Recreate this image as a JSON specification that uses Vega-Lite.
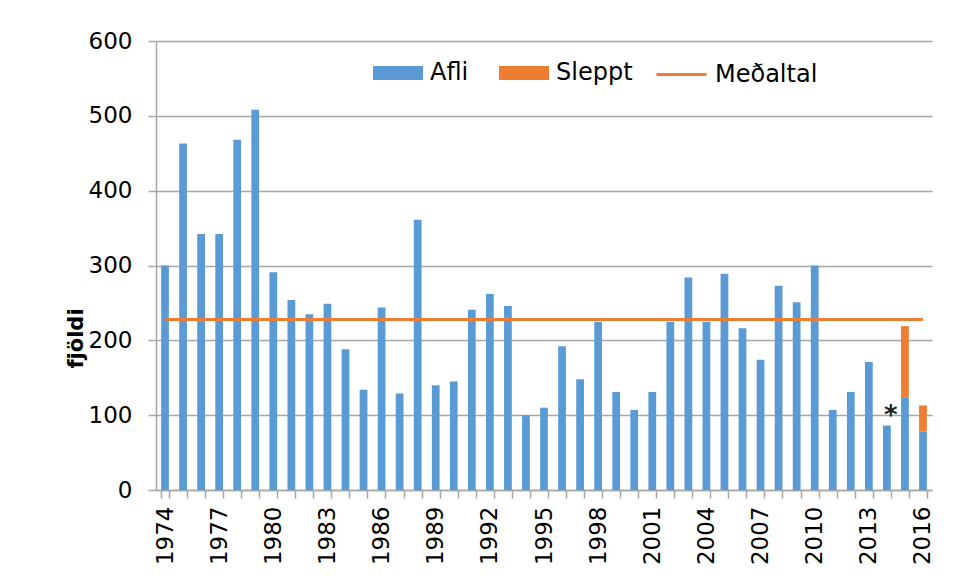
{
  "$schema": "https://vega.github.io/schema/vega-lite/v6.json",
  "width": 776,
  "height": 449,
  "autosize": {"type": "none"},
  "padding": {"left": 156, "top": 41, "right": 25, "bottom": 88},
  "background": "white",
  "config": {"view": {"stroke": null}, "font": "DejaVu Sans"},
  "datasets": {
    "d": [
      {"year": 1974, "Afli": 300, "Sleppt": 0, "Medaltal": 228},
      {"year": 1975, "Afli": 463, "Sleppt": 0, "Medaltal": 228},
      {"year": 1976, "Afli": 342, "Sleppt": 0, "Medaltal": 228},
      {"year": 1977, "Afli": 342, "Sleppt": 0, "Medaltal": 228},
      {"year": 1978, "Afli": 468, "Sleppt": 0, "Medaltal": 228},
      {"year": 1979, "Afli": 508, "Sleppt": 0, "Medaltal": 228},
      {"year": 1980, "Afli": 291, "Sleppt": 0, "Medaltal": 228},
      {"year": 1981, "Afli": 254, "Sleppt": 0, "Medaltal": 228},
      {"year": 1982, "Afli": 235, "Sleppt": 0, "Medaltal": 228},
      {"year": 1983, "Afli": 249, "Sleppt": 0, "Medaltal": 228},
      {"year": 1984, "Afli": 188, "Sleppt": 0, "Medaltal": 228},
      {"year": 1985, "Afli": 134, "Sleppt": 0, "Medaltal": 228},
      {"year": 1986, "Afli": 244, "Sleppt": 0, "Medaltal": 228},
      {"year": 1987, "Afli": 129, "Sleppt": 0, "Medaltal": 228},
      {"year": 1988, "Afli": 361, "Sleppt": 0, "Medaltal": 228},
      {"year": 1989, "Afli": 140, "Sleppt": 0, "Medaltal": 228},
      {"year": 1990, "Afli": 145, "Sleppt": 0, "Medaltal": 228},
      {"year": 1991, "Afli": 241, "Sleppt": 0, "Medaltal": 228},
      {"year": 1992, "Afli": 262, "Sleppt": 0, "Medaltal": 228},
      {"year": 1993, "Afli": 246, "Sleppt": 0, "Medaltal": 228},
      {"year": 1994, "Afli": 100, "Sleppt": 0, "Medaltal": 228},
      {"year": 1995, "Afli": 110, "Sleppt": 0, "Medaltal": 228},
      {"year": 1996, "Afli": 192, "Sleppt": 0, "Medaltal": 228},
      {"year": 1997, "Afli": 148, "Sleppt": 0, "Medaltal": 228},
      {"year": 1998, "Afli": 225, "Sleppt": 0, "Medaltal": 228},
      {"year": 1999, "Afli": 131, "Sleppt": 0, "Medaltal": 228},
      {"year": 2000, "Afli": 107, "Sleppt": 0, "Medaltal": 228},
      {"year": 2001, "Afli": 131, "Sleppt": 0, "Medaltal": 228},
      {"year": 2002, "Afli": 225, "Sleppt": 0, "Medaltal": 228},
      {"year": 2003, "Afli": 284, "Sleppt": 0, "Medaltal": 228},
      {"year": 2004, "Afli": 225, "Sleppt": 0, "Medaltal": 228},
      {"year": 2005, "Afli": 289, "Sleppt": 0, "Medaltal": 228},
      {"year": 2006, "Afli": 216, "Sleppt": 0, "Medaltal": 228},
      {"year": 2007, "Afli": 174, "Sleppt": 0, "Medaltal": 228},
      {"year": 2008, "Afli": 273, "Sleppt": 0, "Medaltal": 228},
      {"year": 2009, "Afli": 251, "Sleppt": 0, "Medaltal": 228},
      {"year": 2010, "Afli": 300, "Sleppt": 0, "Medaltal": 228},
      {"year": 2011, "Afli": 107, "Sleppt": 0, "Medaltal": 228},
      {"year": 2012, "Afli": 131, "Sleppt": 0, "Medaltal": 228},
      {"year": 2013, "Afli": 171, "Sleppt": 0, "Medaltal": 228},
      {"year": 2014, "Afli": 86, "Sleppt": 0, "Medaltal": 228},
      {"year": 2015, "Afli": 124, "Sleppt": 95, "Medaltal": 228},
      {"year": 2016, "Afli": 78, "Sleppt": 35, "Medaltal": 228}
    ],
    "note": [{"year": 2014, "value": 107, "label": "*"}]
  },
  "encoding": {
    "x": {
      "field": "year",
      "type": "ordinal",
      "scale": {"paddingInner": 0.57, "paddingOuter": 0.285},
      "axis": {
        "title": null,
        "labelAngle": -90,
        "labelExpr": "datum.value % 3 == 0 ? datum.value : ''",
        "labelOverlap": false,
        "labelFontSize": 23,
        "labelColor": "#000",
        "labelPadding": 8,
        "tickBand": "extent",
        "tickSize": 8,
        "tickColor": "#a6a6a6",
        "tickWidth": 1.5,
        "domainColor": "#a6a6a6",
        "domainWidth": 1.5,
        "grid": false
      }
    }
  },
  "layer": [
    {
      "data": {"name": "d"},
      "transform": [{"fold": ["Afli", "Sleppt"], "as": ["key", "val"]}],
      "mark": {"type": "bar"},
      "encoding": {
        "y": {
          "field": "val",
          "type": "quantitative",
          "stack": "zero",
          "scale": {"domain": [0, 600]},
          "axis": {
            "title": "fjöldi",
            "titleFontSize": 21,
            "titleFontWeight": "bold",
            "titleColor": "#000",
            "titleAngle": -90,
            "titleX": -80,
            "titleY": 297,
            "titleAlign": "center",
            "titleBaseline": "middle",
            "values": [0, 100, 200, 300, 400, 500, 600],
            "labelFontSize": 23,
            "labelColor": "#000",
            "labelPadding": 16,
            "tickSize": 8,
            "tickColor": "#a6a6a6",
            "tickWidth": 1.5,
            "domainColor": "#a6a6a6",
            "domainWidth": 1.5,
            "gridColor": "#a6a6a6",
            "gridWidth": 1.5
          }
        },
        "order": {"field": "key", "type": "nominal", "sort": "ascending"},
        "fill": {
          "field": "key",
          "type": "nominal",
          "scale": {"domain": ["Afli", "Sleppt"], "range": ["#5b9bd5", "#ed7d31"]},
          "legend": {
            "title": null,
            "orient": "none",
            "direction": "horizontal",
            "legendX": 217,
            "legendY": 7,
            "padding": 0,
            "symbolType": "M-1,-0.28H1V0.28H-1Z",
            "symbolSize": 2500,
            "symbolStrokeWidth": 0,
            "labelFontSize": 24,
            "labelColor": "#000",
            "labelOffset": 7,
            "columnPadding": 30
          }
        }
      }
    },
    {
      "data": {"name": "d"},
      "mark": {"type": "line", "strokeWidth": 3},
      "encoding": {
        "y": {"field": "Medaltal", "type": "quantitative"},
        "stroke": {
          "datum": "Meðaltal",
          "scale": {"range": ["#ed7d31"]},
          "legend": {
            "title": null,
            "orient": "none",
            "legendX": 499,
            "legendY": 7,
            "padding": 0,
            "symbolType": "stroke",
            "symbolSize": 2500,
            "symbolStrokeWidth": 3,
            "labelFontSize": 24,
            "labelColor": "#000",
            "labelOffset": 7
          }
        }
      }
    },
    {
      "data": {"name": "note"},
      "mark": {"type": "text", "fontSize": 26, "fontWeight": "bold", "color": "#222", "baseline": "middle", "dy": 6, "dx": 4},
      "encoding": {
        "y": {"field": "value", "type": "quantitative"},
        "text": {"field": "label"}
      }
    }
  ]
}
